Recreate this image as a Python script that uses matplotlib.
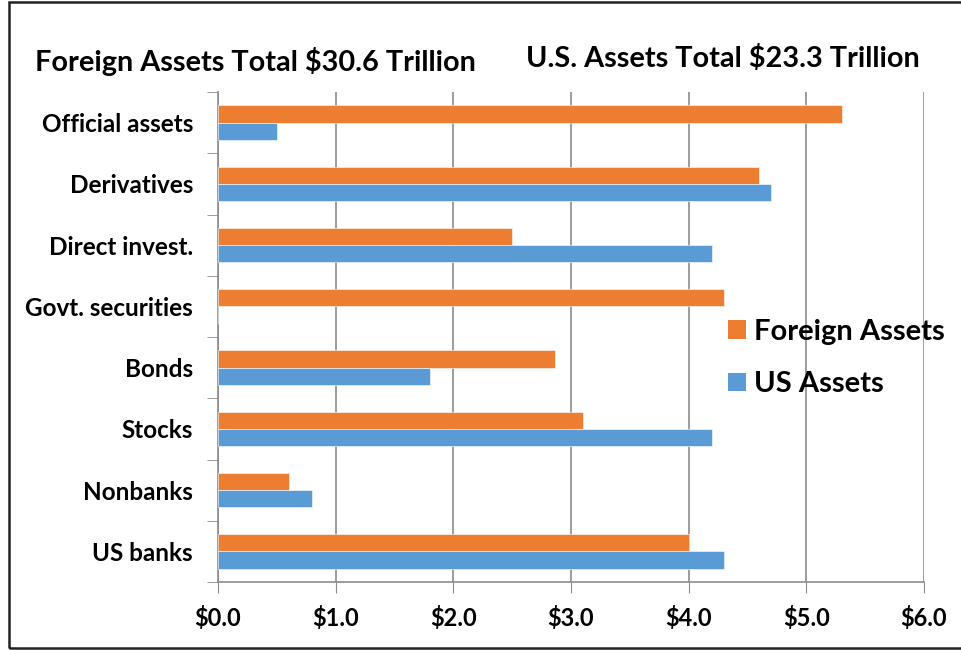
import numpy as np
import matplotlib
matplotlib.use("Agg")
import matplotlib.pyplot as plt
from matplotlib.patches import Patch, Rectangle

# values in $ trillion, listed bottom to top as drawn
categories = ["US banks", "Nonbanks", "Stocks", "Bonds", "Govt. securities",
              "Direct invest.", "Derivatives", "Official assets"]
foreign_assets = [4.0, 0.6, 3.1, 2.86, 4.3, 2.5, 4.6, 5.3]
us_assets = [4.3, 0.8, 4.2, 1.8, 0.0, 4.2, 4.7, 0.5]
x_ticks = [0, 1, 2, 3, 4, 5, 6]
x_labels = ["$0.0", "$1.0", "$2.0", "$3.0", "$4.0", "$5.0", "$6.0"]

orange = "#ED7D31"
blue = "#5B9BD5"
grid_col = "#8C8C8C"

plt.rcParams["font.family"] = ["Lato", "DejaVu Sans"]
plt.rcParams["font.weight"] = "bold"

fig = plt.figure(figsize=(9.62, 6.5), dpi=100)
ax = fig.add_axes([218 / 962, 1 - 582 / 650, (924 - 218) / 962, (582 - 92) / 650])

y = np.arange(len(categories))
h = 0.28
ax.barh(y + h / 2, foreign_assets, height=h, color=orange, edgecolor="white", linewidth=0.4, zorder=3)
ax.barh(y - h / 2, us_assets, height=h, color=blue, edgecolor="white", linewidth=0.4, zorder=3)

ax.set_xlim(0, 6)
ax.set_ylim(-0.5, len(categories) - 0.5)
ax.set_xticks(x_ticks)
ax.set_xticklabels(x_labels, fontsize=17, fontweight="bold")
ax.set_yticks(y)
ax.set_yticklabels(categories, fontsize=17.5, fontweight="bold")
ax.tick_params(axis="y", length=0, pad=18)
ax.set_yticks(np.arange(-0.5, len(categories)), minor=True)
ax.tick_params(axis="y", which="minor", length=8, color=grid_col, direction="out")
ax.tick_params(axis="x", length=8, color=grid_col, direction="out", pad=9)

ax.grid(axis="x", color=grid_col, linewidth=1.2, zorder=0)
for s in ["top", "right"]:
    ax.spines[s].set_visible(False)
for s in ["left", "bottom"]:
    ax.spines[s].set_color(grid_col)
    ax.spines[s].set_linewidth(1.2)

fig.text(35 / 962, 1 - 61 / 650, "Foreign Assets Total $30.6 Trillion", fontsize=20.8,
         fontweight="bold", va="center", ha="left")
fig.text(920 / 962, 1 - 59 / 650, "U.S. Assets Total $23.3 Trillion", fontsize=20.8,
         fontweight="bold", va="center", ha="right")

handles = [Patch(facecolor=orange), Patch(facecolor=blue)]
fig.legend(handles, ["Foreign Assets", "US Assets"], loc="center left",
           bbox_to_anchor=(702 / 962, 1 - 358 / 650), frameon=False,
           handlelength=0.6, handleheight=0.6, handletextpad=0.3, labelspacing=0.9,
           prop={"weight": "bold", "size": 21})

# outer frame
fig.patches.append(Rectangle((9 / 962, 2 / 650), 1.0, 1 - 4 / 650, transform=fig.transFigure,
                             fill=False, edgecolor="#222222", linewidth=1.8))

fig.savefig("out.png", dpi=100)
